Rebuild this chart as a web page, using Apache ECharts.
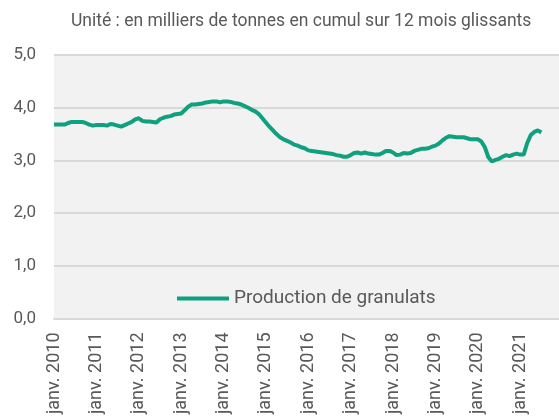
<!DOCTYPE html>
<html>
<head>
<meta charset="utf-8">
<script src="https://cdn.jsdelivr.net/npm/echarts@6/dist/echarts.min.js"></script>
<style>
  html, body { margin: 0; padding: 0; background: #fff; }
  #main { width: 559px; height: 417px; }
</style>
</head>
<body>
<div id="main"></div>
<script>
// mois de janv. 2010 à déc. 2021
var years = [2010, 2011, 2012, 2013, 2014, 2015, 2016, 2017, 2018, 2019, 2020, 2021];
var monthNames = ['janv.', 'févr.', 'mars', 'avr.', 'mai', 'juin', 'juil.', 'août', 'sept.', 'oct.', 'nov.', 'déc.'];
var yTicks = [0, 1, 2, 3, 4, 5];

// production de granulats, cumul 12 mois glissants (milliers de tonnes)
var production = [
  3.68, 3.68, 3.68, 3.68, 3.71, 3.73, 3.73, 3.73, 3.73, 3.71, 3.68, 3.66,
  3.67, 3.67, 3.67, 3.66, 3.69, 3.68, 3.66, 3.64, 3.67, 3.70, 3.73, 3.78,
  3.80, 3.75, 3.74, 3.74, 3.73, 3.72, 3.78, 3.81, 3.83, 3.84, 3.87, 3.88,
  3.89, 3.95, 4.02, 4.06, 4.06, 4.07, 4.08, 4.10, 4.11, 4.12, 4.12, 4.10,
  4.12, 4.12, 4.11, 4.09, 4.08, 4.06, 4.03, 4.00, 3.96, 3.93, 3.88, 3.80,
  3.72, 3.64, 3.57, 3.50, 3.44, 3.40, 3.37, 3.34, 3.30, 3.28, 3.25, 3.23,
  3.19, 3.18, 3.17, 3.16, 3.15, 3.14, 3.13, 3.12, 3.10, 3.09, 3.07, 3.07,
  3.10, 3.14, 3.15, 3.13, 3.15, 3.13, 3.12, 3.11, 3.11, 3.14, 3.18, 3.18,
  3.15, 3.10, 3.11, 3.14, 3.13, 3.14, 3.18, 3.20, 3.22, 3.22, 3.23, 3.26,
  3.28, 3.32, 3.38, 3.43, 3.46, 3.45, 3.44, 3.44, 3.44, 3.42, 3.40, 3.40,
  3.40, 3.36, 3.25, 3.06, 2.98, 3.01, 3.03, 3.07, 3.10, 3.08, 3.11, 3.13,
  3.11, 3.11, 3.33, 3.48, 3.54, 3.57, 3.53
];

var months = [];
years.forEach(function (y) {
    monthNames.forEach(function (m) {
        months.push(m + ' ' + y);
    });
});

var txtColor = '#595959';
var gridColor = '#d9d9d9';
var lineColor = '#0fa07f';

var chart = echarts.init(document.getElementById('main'));
var option = {
    animation: false,
    textStyle: { fontFamily: 'Roboto' },
    title: {
        text: 'Unité : en milliers de tonnes en cumul sur 12 mois glissants',
        left: 66,
        top: 8,
        textStyle: { fontSize: 17.5, fontWeight: 'normal', color: txtColor, fontFamily: 'Roboto' }
    },
    legend: {
        left: 172,
        top: 284,
        icon: 'rect',
        itemWidth: 52,
        itemHeight: 4,
        itemGap: 10,
        textStyle: { fontSize: 19, color: txtColor, fontFamily: 'Roboto' },
        data: ['Production de granulats']
    },
    grid: {
        left: 54,
        right: 0,
        top: 55,
        bottom: 98,
        show: true,
        backgroundColor: '#f2f2f2',
        borderWidth: 0
    },
    xAxis: {
        type: 'category',
        data: months,
        boundaryGap: false,
        axisTick: { show: false },
        axisLine: { lineStyle: { color: gridColor, width: 2 } },
        axisLabel: {
            rotate: 90,
            margin: 14,
            fontSize: 18,
            color: txtColor,
            interval: 11
        },
        splitLine: { show: false }
    },
    yAxis: {
        type: 'value',
        min: yTicks[0],
        max: yTicks[yTicks.length - 1],
        interval: 1,
        axisLine: { show: false },
        axisTick: { show: false },
        axisLabel: {
            fontSize: 17,
            color: txtColor,
            margin: 18,
            formatter: function (v) { return v.toFixed(1).replace('.', ','); }
        },
        splitLine: { lineStyle: { color: gridColor, width: 2 } }
    },
    series: [{
        name: 'Production de granulats',
        type: 'line',
        data: production,
        symbol: 'none',
        lineStyle: { color: lineColor, width: 4 },
        itemStyle: { color: lineColor }
    }]
};
chart.setOption(option);
</script>
</body>
</html>
